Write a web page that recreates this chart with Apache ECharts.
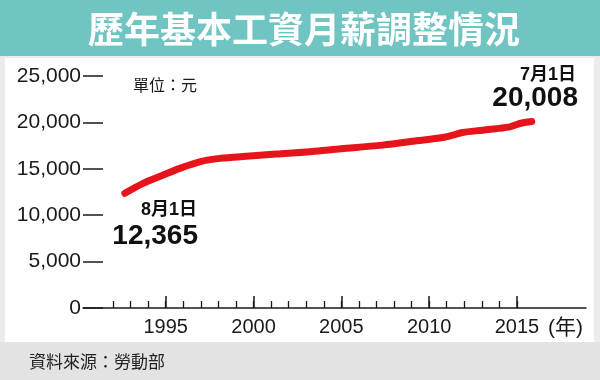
<!DOCTYPE html>
<html>
<head>
<meta charset="utf-8">
<script src="https://cdn.jsdelivr.net/npm/echarts@6/dist/echarts.min.js"></script>
<style>
html,body{margin:0;padding:0;background:#fff;}
#c{width:600px;height:380px;}
</style>
</head>
<body>
<div id="c"></div>
<script>
// Data
const years = [1992.67, 1993.71, 1994.85, 1995.80, 1996.93, 1998.07, 1999.78, 2001.30, 2003.20, 2004.51, 2007.35, 2009.29, 2010.77, 2011.34, 2011.91, 2013.05, 2014.59, 2015.16, 2015.84];
const wages = [12365, 13435, 14327, 15047, 15757, 16122, 16369, 16584, 16831, 17089, 17552, 18014, 18379, 18626, 18916, 19164, 19518, 19884, 20100];
const yTicks = [0, 5000, 10000, 15000, 20000, 25000];
const minorYears = [1992,1993,1994,1995,1996,1997,1998,1999,2000,2001,2002,2003,2004,2005,2006,2007,2008,2009,2010,2011,2012,2013,2014,2015];
const majorYears = [1995, 2000, 2005, 2010, 2015];
const annotDates = ['8月1日', '7月1日'];
const annotValues = [12365, 20008];
const titleText = '歷年基本工資月薪調整情況';
const unitText = '單位：元';
const sourceText = '資料來源：勞動部';
const yearUnit = '(年)';

const latin = "'Liberation Sans', Arial, 'Noto Sans CJK TC', sans-serif";
const cjk = "'Noto Sans CJK TC', 'Liberation Sans', sans-serif";
const fmt = v => v.toLocaleString('en-US');

const chart = echarts.init(document.getElementById('c'), null, {renderer: 'canvas'});
const xMin = 1990.29, xMax = 2018.93;

chart.setOption({
  animation: false,
  backgroundColor: '#ececec',
  grid: {left: 83, right: 14, top: 76, bottom: 72},
  xAxis: [{
    type: 'value', min: xMin, max: xMax,
    axisLine: {show: true, lineStyle: {color: '#1a1a1a', width: 1.5}},
    axisTick: {show: true, inside: true, length: 7, customValues: minorYears, lineStyle: {color: '#1a1a1a', width: 1.3}},
    axisLabel: {show: true, customValues: majorYears, margin: 9, color: '#1a1a1a', fontSize: 20, fontFamily: latin, formatter: v => String(Math.round(v))},
    splitLine: {show: false}
  }, {
    type: 'value', min: xMin, max: xMax, position: 'bottom',
    axisLine: {show: false},
    axisTick: {show: true, inside: true, length: 12, customValues: majorYears, lineStyle: {color: '#1a1a1a', width: 1.5}},
    axisLabel: {show: false},
    splitLine: {show: false}
  }],
  yAxis: {
    type: 'value', min: 0, max: 25000, interval: 5000,
    axisLine: {show: false},
    axisTick: {show: true, inside: true, length: 20, lineStyle: {color: '#1a1a1a', width: 1.5}},
    axisLabel: {margin: 2, color: '#1a1a1a', fontSize: 21, fontFamily: latin, formatter: v => fmt(v)},
    splitLine: {show: false}
  },
  graphic: [
    {type: 'rect', z: -10, shape: {x: 0, y: 0, width: 600, height: 56}, style: {fill: '#70c5c2'}},
    {type: 'rect', z: -10, shape: {x: 5, y: 58, width: 589, height: 284}, style: {fill: '#ffffff'}},
    {type: 'rect', z: -10, shape: {x: 0, y: 342, width: 600, height: 38}, style: {fill: '#e3e3e3'}},
    {type: 'text', x: 304, y: 29, style: {text: titleText, fill: '#ffffff', font: "bold 36px " + cjk, textAlign: 'center', textVerticalAlign: 'middle', letterSpacing: 1}},
    {type: 'text', x: 133, y: 85, style: {text: unitText, fill: '#1a1a1a', font: "16px " + cjk, textAlign: 'left', textVerticalAlign: 'middle'}},
    {type: 'text', x: 29, y: 362, style: {text: sourceText, fill: '#222', font: "17px " + cjk, textAlign: 'left', textVerticalAlign: 'middle'}},
    {type: 'text', x: 548, y: 328, style: {text: yearUnit, fill: '#1a1a1a', font: "21px " + latin, textAlign: 'left', textVerticalAlign: 'middle'}},
    {type: 'text', x: 197, y: 210, style: {text: annotDates[0], fill: '#111', font: "bold 18px " + latin, textAlign: 'right', textVerticalAlign: 'middle'}},
    {type: 'text', x: 198, y: 236, style: {text: fmt(annotValues[0]), fill: '#111', font: "bold 28px " + latin, textAlign: 'right', textVerticalAlign: 'middle'}},
    {type: 'text', x: 576, y: 75, style: {text: annotDates[1], fill: '#111', font: "bold 18px " + latin, textAlign: 'right', textVerticalAlign: 'middle'}},
    {type: 'text', x: 578, y: 98, style: {text: fmt(annotValues[1]), fill: '#111', font: "bold 28px " + latin, textAlign: 'right', textVerticalAlign: 'middle'}}
  ],
  series: [{
    type: 'line',
    data: years.map((y, i) => [y, wages[i]]),
    showSymbol: false,
    smooth: 0.3,
    lineStyle: {color: '#e8141b', width: 7, cap: 'round', join: 'round'}
  }]
});
</script>
</body>
</html>
